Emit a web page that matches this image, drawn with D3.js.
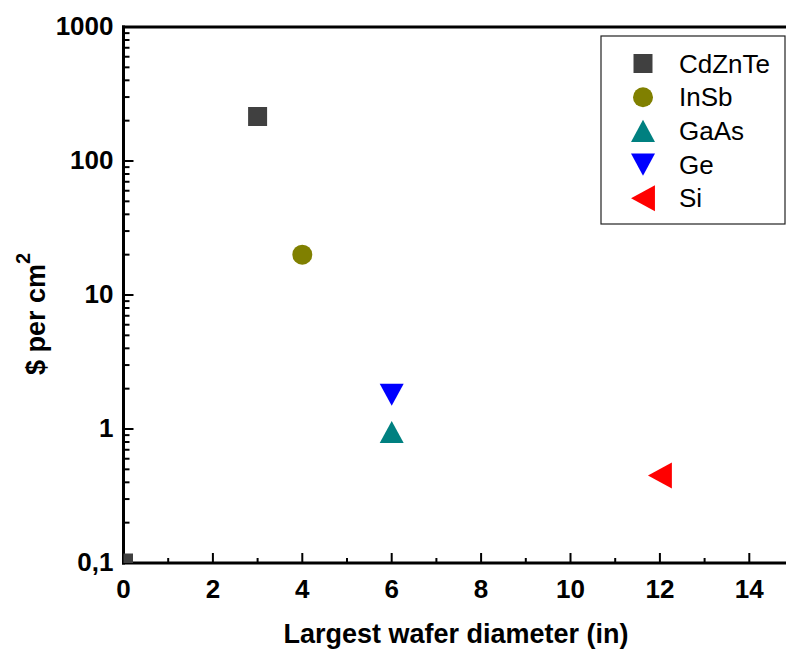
<!DOCTYPE html>
<html>
<head>
<meta charset="utf-8">
<script src="https://cdn.jsdelivr.net/npm/d3@7"></script>
<style>
  html, body { margin: 0; padding: 0; background: #fff; }
  svg { display: block; font-family: "Liberation Sans", Arial, sans-serif; }
</style>
</head>
<body>
<svg id="chart" width="786" height="653"></svg>
<script>
// Wafer cost per area versus largest available wafer diameter
const materials = ["CdZnTe", "InSb", "GaAs", "Ge", "Si"];
const colors    = ["#404040", "#808000", "#008080", "#0000ff", "#ff0000"];
const shapes    = ["square", "circle", "up", "down", "left"];

// points: material index, diameter (in), $ per cm²
const diameters = [0, 3, 4, 6, 6, 12];
const costs     = [0.1, 215, 20, 0.95, 1.8, 0.45];
const series    = [0, 0, 1, 2, 3, 4];

const xTicks = [0, 2, 4, 6, 8, 10, 12, 14];
const yTicks = [0.1, 1, 10, 100, 1000];
const yTickLabels = ["0,1", "1", "10", "100", "1000"];

const svg = d3.select("#chart");
const W = 786, H = 653;
const plotLeft = 123.5, plotTop = 27, plotBottom = 563;

const x = d3.scaleLinear().domain([0, 15]).range([plotLeft, plotLeft + 44.7 * 15]);
const y = d3.scaleLog().domain([0.1, 1000]).range([plotBottom, plotTop]);

// custom marker shapes (size = bounding width)
const shapeTypes = {
  square: { draw(c, s) { const h = s / 2; c.rect(-h, -h, s, s); } },
  circle: { draw(c, s) { c.moveTo(s / 2, 0); c.arc(0, 0, s / 2, 0, 2 * Math.PI); } },
  up:     { draw(c, s) { const w = s / 2, h = s * 0.46; c.moveTo(0, -h); c.lineTo(w, h); c.lineTo(-w, h); c.closePath(); } },
  down:   { draw(c, s) { const w = s / 2, h = s * 0.46; c.moveTo(0, h); c.lineTo(w, -h); c.lineTo(-w, -h); c.closePath(); } },
  left:   { draw(c, s) { const w = s / 2, h = s * 0.46; c.moveTo(-h, 0); c.lineTo(h, -w); c.lineTo(h, w); c.closePath(); } }
};
const shapeSize = { square: 19, circle: 20, up: 24, down: 24, left: 26 };
const symbolPath = k => d3.symbol().type(shapeTypes[k]).size(shapeSize[k])();

// clip region for the plot area
svg.append("defs").append("clipPath").attr("id", "plotClip")
  .append("rect").attr("x", plotLeft).attr("y", plotTop)
  .attr("width", W - plotLeft).attr("height", plotBottom - plotTop);

// minor + major ticks on the y axis (pointing inward)
const yMinor = [];
for (let e = -1; e < 3; e++) for (let m = 2; m <= 9; m++) yMinor.push(m * Math.pow(10, e));
const ax = svg.append("g").attr("stroke", "#000");
ax.selectAll("line.ymin").data(yMinor).join("line")
  .attr("x1", plotLeft).attr("x2", plotLeft + 6)
  .attr("y1", d => y(d)).attr("y2", d => y(d)).attr("stroke-width", 2);
ax.selectAll("line.ymaj").data(yTicks).join("line")
  .attr("x1", plotLeft).attr("x2", plotLeft + 10)
  .attr("y1", d => y(d)).attr("y2", d => y(d)).attr("stroke-width", 2);

// x ticks: majors at even values, minors at odd values
const xMinor = d3.range(1, 16, 2);
ax.selectAll("line.xmin").data(xMinor).join("line")
  .attr("x1", d => x(d)).attr("x2", d => x(d))
  .attr("y1", plotBottom).attr("y2", plotBottom - 5).attr("stroke-width", 2);
ax.selectAll("line.xmaj").data(xTicks).join("line")
  .attr("x1", d => x(d)).attr("x2", d => x(d))
  .attr("y1", plotBottom).attr("y2", plotBottom - 10).attr("stroke-width", 2);

// frame: left axis, bottom axis, top border
ax.append("line").attr("x1", plotLeft).attr("x2", plotLeft).attr("y1", plotTop - 1.5).attr("y2", plotBottom + 1.5).attr("stroke-width", 3);
ax.append("line").attr("x1", plotLeft - 1.5).attr("x2", W).attr("y1", plotBottom).attr("y2", plotBottom).attr("stroke-width", 3);
ax.append("line").attr("x1", plotLeft - 1.5).attr("x2", W).attr("y1", plotTop).attr("y2", plotTop).attr("stroke-width", 3);

// tick labels
svg.selectAll("text.xt").data(xTicks).join("text")
  .attr("x", d => x(d)).attr("y", 598)
  .attr("text-anchor", "middle").attr("font-weight", "bold").attr("font-size", 26)
  .text(d => d);
svg.selectAll("text.yt").data(yTicks).join("text")
  .attr("x", plotLeft - 10).attr("y", d => y(d)).attr("dy", "0.3em")
  .attr("text-anchor", "end").attr("font-weight", "bold").attr("font-size", 26)
  .text((d, i) => yTickLabels[i]);

// axis titles
svg.append("text").attr("x", 456).attr("y", 643)
  .attr("text-anchor", "middle").attr("font-weight", "bold").attr("font-size", 27)
  .text("Largest wafer diameter (in)");
const yTitle = svg.append("text")
  .attr("transform", "translate(45,314) rotate(-90)")
  .attr("text-anchor", "middle").attr("font-weight", "bold").attr("font-size", 27);
yTitle.append("tspan").text("$ per cm");
yTitle.append("tspan").attr("dy", -15).attr("font-size", 20).text("2");

// data markers
svg.append("g").attr("clip-path", "url(#plotClip)")
  .selectAll("path").data(diameters).join("path")
  .attr("transform", (d, i) => `translate(${x(d)},${y(costs[i])})`)
  .attr("d", (d, i) => symbolPath(shapes[series[i]]))
  .attr("fill", (d, i) => colors[series[i]]);

// legend
const lg = svg.append("g");
lg.append("rect").attr("x", 601).attr("y", 36).attr("width", 184).attr("height", 188)
  .attr("fill", "#fff").attr("stroke", "#222").attr("stroke-width", 1.2);
const items = lg.selectAll("g.item").data(materials).join("g")
  .attr("transform", (d, i) => `translate(0,${63.5 + i * 33.7})`);
items.append("path")
  .attr("transform", "translate(643,0)")
  .attr("d", (d, i) => symbolPath(shapes[i]))
  .attr("fill", (d, i) => colors[i]);
items.append("text").attr("x", 679).attr("dy", "0.35em")
  .attr("font-size", 26).text(d => d);
</script>
</body>
</html>
